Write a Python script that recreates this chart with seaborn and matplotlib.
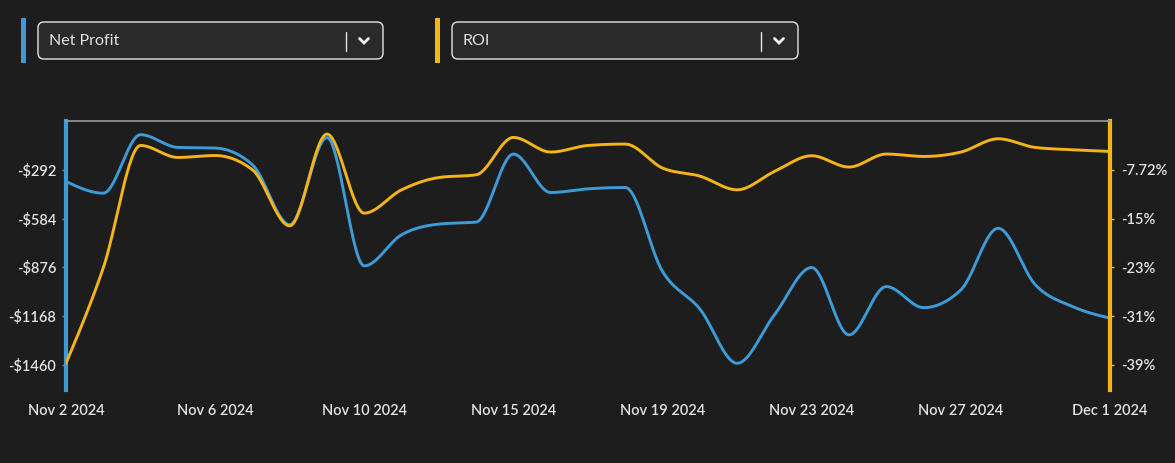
import numpy as np
import pandas as pd
import matplotlib
matplotlib.use("Agg")
import matplotlib.pyplot as plt
from matplotlib.patches import FancyBboxPatch, Rectangle
from matplotlib.lines import Line2D
import seaborn as sns

# ---------------- data ----------------
tick_labels = ["Nov 2 2024", "Nov 6 2024", "Nov 10 2024", "Nov 15 2024",
               "Nov 19 2024", "Nov 23 2024", "Nov 27 2024", "Dec 1 2024"]
net_profit = [-362, -432, -82, -158, -162, -262, -621, -99, -867, -681,
              -617, -605, -198, -428, -406, -398, -901, -1125, -1450, -1160,
              -877, -1280, -991, -1117, -1011, -642, -981, -1111, -1180]
roi = [-38.33, -23.24, -3.87, -5.77, -5.46, -7.72, -16.59, -2.07, -14.58, -10.89,
       -8.94, -8.51, -2.60, -4.92, -3.87, -3.65, -7.45, -8.72, -10.89, -7.99,
       -5.50, -7.29, -5.23, -5.61, -4.92, -2.81, -4.19, -4.55, -4.82]
left_ticks = [-292, -584, -876, -1168, -1460]
left_labels = ["-$292", "-$584", "-$876", "-$1168", "-$1460"]
right_ticks = [-7.72, -15.44, -23.16, -30.88, -38.60]
right_labels = ["-7.72%", "-15%", "-23%", "-31%", "-39%"]

BLUE = "#3d9bd8"
YELLOW = "#f4b41a"
BG = "#1d1d1d"
TXT = "#e2e2e2"


def monotone(x, y, n=30):
    """Steffen-style monotone cubic (like d3.curveMonotoneX) for smooth rendering."""
    x = np.asarray(x, float)
    y = np.asarray(y, float)
    h = np.diff(x)
    s = np.diff(y) / h
    m = np.zeros_like(y)
    for i in range(1, len(y) - 1):
        p = (s[i - 1] * h[i] + s[i] * h[i - 1]) / (h[i - 1] + h[i])
        m[i] = (np.sign(s[i - 1]) + np.sign(s[i])) * min(abs(s[i - 1]), abs(s[i]), 0.5 * abs(p))
    m[0] = (3 * s[0] - m[1]) / 2
    m[-1] = (3 * s[-1] - m[-2]) / 2
    xs, ys = [], []
    for i in range(len(h)):
        t = np.linspace(0, 1, n, endpoint=(i == len(h) - 1))
        h00 = 2 * t**3 - 3 * t**2 + 1
        h10 = t**3 - 2 * t**2 + t
        h01 = -2 * t**3 + 3 * t**2
        h11 = t**3 - t**2
        xs.append(x[i] + t * h[i])
        ys.append(h00 * y[i] + h10 * h[i] * m[i] + h01 * y[i + 1] + h11 * h[i] * m[i + 1])
    return np.concatenate(xs), np.concatenate(ys)


sns.set_theme(style="dark", rc={"axes.facecolor": BG, "figure.facecolor": BG})
plt.rcParams["font.family"] = ["Lato", "DejaVu Sans"]

W, H = 1175, 463
fig = plt.figure(figsize=(W / 100, H / 100), dpi=100, facecolor=BG)


def fx(px):
    return px / W


def fy(py):
    return 1 - py / H


L, R, T, B = 66, 1110, 121, 390
ax = fig.add_axes([fx(L), fy(B), fx(R) - fx(L), fy(T) - fy(B)])
ax.set_facecolor(BG)
ax2 = ax.twinx()

idx = np.arange(len(net_profit))
xb, yb = monotone(idx, net_profit)
xr, yr = monotone(idx, roi)
df_b = pd.DataFrame({"x": xb, "v": yb})
df_r = pd.DataFrame({"x": xr, "v": yr})

sns.lineplot(data=df_b, x="x", y="v", ax=ax, color=BLUE, linewidth=2.1, sort=False)
sns.lineplot(data=df_r, x="x", y="v", ax=ax2, color=YELLOW, linewidth=2.1, sort=False)
ax2.set_zorder(ax.get_zorder() - 1) if False else None

ax.set_xlim(0, len(net_profit) - 1)
ax.set_ylim(-1610, 0)
ax2.set_ylim(-42.56, 0)

ax.set_xticks(np.linspace(0, len(net_profit) - 1, len(tick_labels)))
ax.set_xticklabels(tick_labels)
ax.set_yticks(left_ticks)
ax.set_yticklabels(left_labels)
ax2.set_yticks(right_ticks)
ax2.set_yticklabels(right_labels)
ax.set_xlabel("")
ax.set_ylabel("")
ax2.set_ylabel("")
ax.grid(False)
ax2.grid(False)

for a in (ax, ax2):
    for sp in a.spines.values():
        sp.set_visible(False)
ax2.spines["top"].set_visible(True)
ax2.spines["top"].set_color("#9a9a9a")
ax2.spines["top"].set_linewidth(1.2)
ax.spines["left"].set_visible(True)
ax.spines["left"].set_color(BLUE)
ax.spines["left"].set_linewidth(3)
ax2.spines["right"].set_visible(True)
ax2.spines["right"].set_color(YELLOW)
ax2.spines["right"].set_linewidth(3)

ax.tick_params(axis="x", length=0, pad=10, labelsize=10.5, labelcolor=TXT)
ax.tick_params(axis="y", length=3, width=1, color="#8a8a8a", pad=4, labelsize=10.5, labelcolor=TXT)
ax2.tick_params(axis="y", length=3, width=1, color=YELLOW, pad=5, labelsize=10.5, labelcolor=TXT)
for lab in ax.get_xticklabels() + ax.get_yticklabels() + ax2.get_yticklabels():
    lab.set_fontweight("semibold")

# ---------------- dropdown selectors ----------------
def selector(bar_x, box_x0, box_x1, label, color):
    fig.patches.append(Rectangle((fx(bar_x), fy(63)), fx(5), fy(18) - fy(63),
                                 transform=fig.transFigure, facecolor=color,
                                 edgecolor="none"))
    box = FancyBboxPatch((box_x0, H - 59), box_x1 - box_x0, 37,
                         boxstyle="round,pad=0,rounding_size=6",
                         transform=None, facecolor="#2a2a2a",
                         edgecolor="#e4e4e4", linewidth=1.0)
    fig.patches.append(box)
    fig.text(fx(box_x0 + 11), fy(41), label, color=TXT, fontsize=11.5,
             va="center", ha="left")
    sep = box_x1 - 37
    fig.lines.append(Line2D([fx(sep), fx(sep)], [fy(32), fy(51)],
                            transform=fig.transFigure, color="#e4e4e4", lw=1))
    cx = box_x1 - 19
    fig.lines.append(Line2D([fx(cx - 4.5), fx(cx), fx(cx + 4.5)],
                            [fy(38.5), fy(43), fy(38.5)],
                            transform=fig.transFigure, color="#f0f0f0", lw=2,
                            solid_capstyle="round", solid_joinstyle="miter"))


selector(21, 38, 383, "Net Profit", BLUE)
selector(435, 452, 798, "ROI", YELLOW)

fig.savefig("out.png", dpi=100, facecolor=BG)
